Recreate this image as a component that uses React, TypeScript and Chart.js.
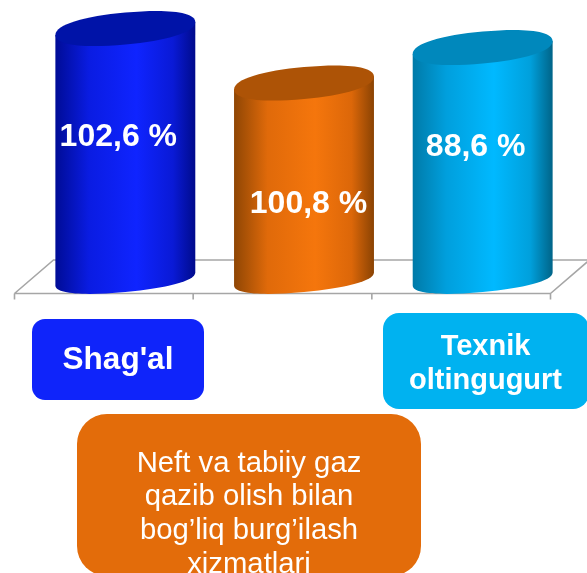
import React, { useEffect, useRef } from "react";
import { Chart, registerables } from "chart.js";

Chart.register(...registerables);

const categories = ["Shag'al", "Neft va tabiiy gaz qazib olish bilan bog’liq burg’ilash xizmatlari", "Texnik oltingugurt"];
const barHeights = [250.5, 196, 231.5];
const valueLabels = ["102,6 %", "100,8 %", "88,6 %"];
const bodyStops = [
  ["#000C96", "#0A1CE2", "#0F24FF", "#0A1AD6", "#000B8C"],
  ["#8F4604", "#E06A0A", "#F5760C", "#DC6709", "#8A4303"],
  ["#007AA8", "#009FDD", "#00B9FF", "#00A0DC", "#006488"],
];
const capColors = ["#0013A8", "#AD5306", "#0088BC"];

const labelOffsets = [[-7, 134], [4.5, 201], [-7, 144]];
const FONT = '"Liberation Sans", Arial, sans-serif';

type Box = { x: number; y: number; w: number; h: number; r: number; fill: string; font: string; lines: string[]; baselines: number[]; cx: number };
const boxes: Box[] = [
  { x: 32, y: 319, w: 172, h: 81, r: 13, fill: "#0F24FA", font: `bold 31.5px ${FONT}`, lines: ["Shag'al"], baselines: [369], cx: 118 },
  { x: 383, y: 313, w: 206, h: 96, r: 16, fill: "#00B2F0", font: `bold 29px ${FONT}`, lines: ["Texnik", "oltingugurt"], baselines: [355, 389], cx: 485.5 },
  { x: 77, y: 414, w: 344, h: 162, r: 30, fill: "#E36C0A", font: `29.3px ${FONT}`, lines: ["Neft va tabiiy gaz", "qazib olish bilan", "bog’liq burg’ilash", "xizmatlari"], baselines: [472, 505, 539, 573], cx: 249 },
];

const SLOPE = 0.093;
const TOP_RY = 16;
const BOTTOM_RY = 13;
const DEPTH = 21.5;
const KX = 0.58;
const KY = 0.66;

const point = (x0: number, y0: number, x: number, y: number): [number, number] => [x0 + x, y0 + y - SLOPE * x];

// Lower half from the left end to the right end of a tilted, slightly full ellipse.
const lowerHalf = (ctx: any, cx: number, cy: number, a: number, b: number) => {
  ctx.bezierCurveTo(...point(cx, cy, -a, b * KY), ...point(cx, cy, -a * KX, b), ...point(cx, cy, 0, b));
  ctx.bezierCurveTo(...point(cx, cy, a * KX, b), ...point(cx, cy, a, b * KY), ...point(cx, cy, a, 0));
};
const upperHalf = (ctx: any, cx: number, cy: number, a: number, b: number) => {
  ctx.bezierCurveTo(...point(cx, cy, a, -b * KY), ...point(cx, cy, a * KX, -b), ...point(cx, cy, 0, -b));
  ctx.bezierCurveTo(...point(cx, cy, -a * KX, -b), ...point(cx, cy, -a, -b * KY), ...point(cx, cy, -a, 0));
};

const cylinders = {
  id: "cylinders",
  beforeDatasetsDraw(chart: any) {
    const { ctx, chartArea, scales } = chart;
    const floorY = scales.y.bottom + 14.5;
    const backY = scales.y.bottom - 19;
    const left = chartArea.left - DEPTH;
    const right = chartArea.right - DEPTH;
    ctx.save();
    ctx.strokeStyle = "#A6A6A6";
    ctx.lineWidth = 1.6;
    ctx.beginPath();
    ctx.moveTo(left, floorY);
    ctx.lineTo(right, floorY);
    ctx.moveTo(left, floorY);
    ctx.lineTo(left + 39, backY);
    ctx.lineTo(587, backY);
    ctx.moveTo(right, floorY);
    ctx.lineTo(right + 39, backY);
    const step = (right - left) / categories.length;
    for (let i = 0; i <= categories.length; i++) {
      ctx.moveTo(left + step * i, floorY);
      ctx.lineTo(left + step * i, floorY + 6);
    }
    ctx.stroke();
    ctx.restore();
  },
  afterDatasetsDraw(chart: any) {
    const { ctx } = chart;
    const bars = chart.getDatasetMeta(0).data;
    bars.forEach((bar: any, i: number) => {
      const { x, y, base, width } = bar.getProps(["x", "y", "base", "width"], true);
      const a = width / 2;
      const g = ctx.createLinearGradient(x - a, 0, x + a, 0);
      const offsets = [0, 0.24, 0.58, 0.84, 1];
      bodyStops[i].forEach((c, k) => g.addColorStop(offsets[k], c));
      ctx.save();
      ctx.fillStyle = g;
      ctx.beginPath();
      ctx.moveTo(...point(x, y, -a, 0));
      ctx.lineTo(...point(x, base, -a, 0));
      lowerHalf(ctx, x, base, a, BOTTOM_RY);
      ctx.lineTo(...point(x, y, a, 0));
      ctx.closePath();
      ctx.fill();
      ctx.fillStyle = capColors[i];
      ctx.beginPath();
      ctx.moveTo(...point(x, y, -a, 0));
      lowerHalf(ctx, x, y, a, TOP_RY);
      upperHalf(ctx, x, y, a, TOP_RY);
      ctx.closePath();
      ctx.fill();
      ctx.restore();
    });

    ctx.save();
    ctx.textAlign = "center";
    ctx.textBaseline = "alphabetic";
    ctx.fillStyle = "#FFFFFF";
    ctx.font = `bold 32px ${FONT}`;
    bars.forEach((bar: any, i: number) => {
      ctx.fillText(valueLabels[i], bar.x + labelOffsets[i][0], labelOffsets[i][1] + 11.5);
    });
    boxes.forEach((b) => {
      ctx.fillStyle = b.fill;
      ctx.beginPath();
      ctx.roundRect(b.x, b.y, b.w, b.h, b.r);
      ctx.fill();
      ctx.fillStyle = "#FFFFFF";
      ctx.font = b.font;
      b.lines.forEach((line, k) => ctx.fillText(line, b.cx, b.baselines[k]));
    });
    ctx.restore();
  },
};

export default function App() {
  const ref = useRef<HTMLCanvasElement>(null);
  useEffect(() => {
    document.body.style.margin = "0";
    document.body.style.background = "#FFFFFF";
    const chart = new Chart(ref.current!, {
      type: "bar",
      data: {
        labels: categories,
        datasets: [{ data: barHeights, backgroundColor: "transparent", barPercentage: 0.875, categoryPercentage: 0.895 }],
      },
      options: {
        animation: false,
        responsive: false,
        events: [],
        layout: { padding: { left: 36, right: 15, top: 0, bottom: 294 } },
        plugins: { legend: { display: false }, tooltip: { enabled: false }, title: { display: false } },
        scales: {
          x: { display: false },
          y: { display: false, min: 0, max: 279 },
        },
      },
      plugins: [cylinders],
    });
    return () => chart.destroy();
  }, []);
  return <canvas ref={ref} width={587} height={573} style={{ display: "block", width: 587, height: 573 }} />;
}
